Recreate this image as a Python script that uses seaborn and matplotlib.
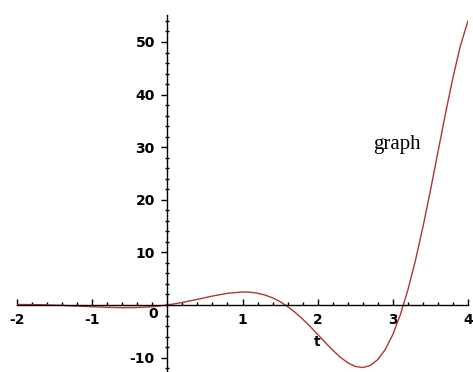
import numpy as np
import seaborn as sns
import matplotlib.pyplot as plt
from matplotlib.ticker import MultipleLocator

# values
t_vals = [-2.0, -1.8, -1.6, -1.4, -1.2, -1.0, -0.8, -0.6, -0.4, -0.2, 0.0,
          0.2, 0.4, 0.6, 0.8, 1.0, 1.1, 1.2, 1.3, 1.4, 1.5, 1.6, 1.7, 1.8,
          1.9, 2.0, 2.1, 2.2, 2.3, 2.4, 2.5, 2.6, 2.7, 2.8, 2.9, 3.0, 3.1,
          3.2, 3.3, 3.4, 3.5, 3.6, 3.7, 3.8, 3.9, 4.0]
y_vals = [0.10, 0.07, 0.01, -0.08, -0.20, -0.33, -0.45, -0.51, -0.48, -0.32, 0.0,
          0.48, 1.07, 1.70, 2.22, 2.47, 2.43, 2.24, 1.89, 1.36, 0.63, -0.29, -1.40, -2.68,
          -4.09, -5.59, -7.12, -8.59, -9.91, -10.98, -11.68, -11.89, -11.50, -10.38, -8.44, -5.61, -1.85,
          2.86, 8.45, 14.80, 21.76, 29.05, 36.36, 43.27, 49.33, 54.02]

x_ticks = [-2, -1, 1, 2, 3, 4]
y_ticks = [-10, 10, 20, 30, 40, 50]

sns.set_style("white")
plt.rcParams["text.color"] = "black"

fig = plt.figure(figsize=(4.73, 3.72), dpi=100)
ax = fig.add_axes([17 / 473, 0.0, 451 / 473, 357 / 372])

sns.lineplot(x=t_vals, y=y_vals, ax=ax, color="#b03434", linewidth=1.0,
             sort=False, estimator=None)

ax.set_xlim(-2, 4)
ax.set_ylim(-12.74, 55.13)

for side in ["top", "right"]:
    ax.spines[side].set_visible(False)
ax.spines["left"].set_position(("data", 0))
ax.spines["bottom"].set_position(("data", 0))
for side in ["left", "bottom"]:
    ax.spines[side].set_color("black")
    ax.spines[side].set_linewidth(1.0)

ax.set_xticks(x_ticks)
ax.set_xticklabels([str(v) for v in x_ticks], fontweight="bold", fontsize=10)
ax.set_yticks(y_ticks)
ax.set_yticklabels([str(v) for v in y_ticks], fontweight="bold", fontsize=10)
ax.xaxis.set_minor_locator(MultipleLocator(0.2))
ax.yaxis.set_minor_locator(MultipleLocator(2))

ax.tick_params(axis="x", which="both", bottom=True, top=False)
ax.tick_params(axis="y", which="both", left=True, right=False)
ax.tick_params(axis="x", which="major", direction="in", length=4, width=1, pad=6,
               colors="black")
ax.tick_params(axis="x", which="minor", direction="in", length=2.5, width=1, colors="black")
ax.tick_params(axis="y", which="major", direction="out", length=4, width=1, pad=5,
               colors="black")
ax.tick_params(axis="y", which="minor", direction="inout", length=3, width=1, colors="black")

ax.annotate("0", xy=(0, 0), xytext=(-10, -1.5), textcoords="offset points",
            ha="center", va="top", fontweight="bold", fontsize=10, color="black")
ax.text(1.99, -7.0, "t", ha="center", va="center", fontweight="bold", fontsize=10,
        color="black")
ax.text(3.06, 30.5, "graph", ha="center", va="center", fontsize=15,
        family="Liberation Serif", color="black")

ax.grid(False)
fig.savefig("out.png", dpi=100)
